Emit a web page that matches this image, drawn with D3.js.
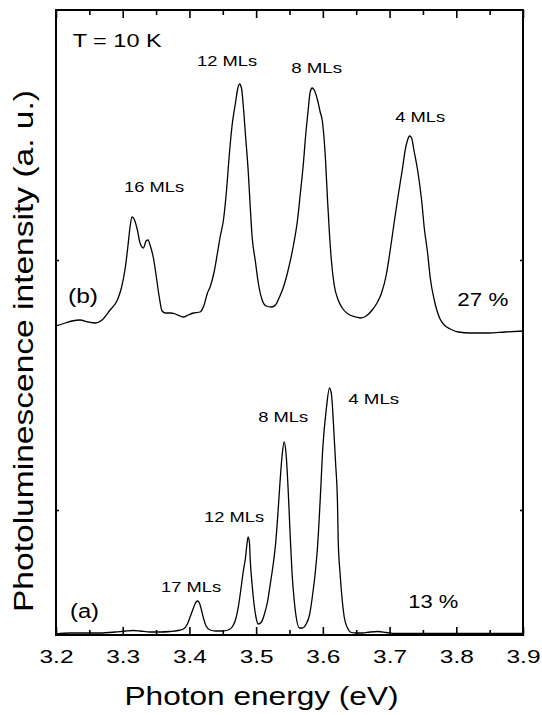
<!DOCTYPE html>
<html><head><meta charset="utf-8">
<script src="https://cdn.jsdelivr.net/npm/d3@7"></script>
<style>
html,body{margin:0;padding:0;background:#fff;}
svg{display:block;font-family:"Liberation Sans",Arial,Helvetica,sans-serif;}
</style></head>
<body><svg id="c" width="542" height="715"></svg>
<script>
// Photon energy (eV) and PL intensity (a.u.)
const energyB = [3.200,3.214,3.224,3.236,3.248,3.259,3.269,3.281,3.292,3.298,3.304,3.308,3.311,3.314,3.317,3.322,3.326,3.331,3.335,3.338,3.341,3.346,3.350,3.355,3.359,3.364,3.371,3.379,3.386,3.391,3.398,3.406,3.416,3.422,3.427,3.431,3.437,3.442,3.446,3.451,3.455,3.460,3.464,3.469,3.472,3.475,3.478,3.481,3.484,3.488,3.491,3.494,3.499,3.503,3.509,3.515,3.523,3.529,3.535,3.541,3.548,3.556,3.562,3.566,3.571,3.574,3.578,3.581,3.584,3.587,3.592,3.596,3.599,3.604,3.607,3.610,3.613,3.617,3.623,3.629,3.638,3.649,3.656,3.665,3.674,3.682,3.688,3.695,3.701,3.707,3.713,3.719,3.724,3.727,3.730,3.733,3.737,3.742,3.748,3.752,3.757,3.761,3.767,3.775,3.782,3.791,3.803,3.821,3.848,3.873,3.900];
const intensityB = [1.236,1.248,1.256,1.260,1.252,1.248,1.260,1.300,1.340,1.388,1.472,1.560,1.632,1.672,1.664,1.620,1.568,1.548,1.576,1.580,1.560,1.508,1.440,1.348,1.296,1.288,1.288,1.284,1.276,1.272,1.280,1.288,1.292,1.320,1.368,1.392,1.452,1.528,1.592,1.660,1.760,1.928,2.040,2.128,2.180,2.204,2.188,2.108,2.000,1.860,1.720,1.592,1.492,1.412,1.340,1.316,1.312,1.320,1.352,1.392,1.460,1.560,1.660,1.760,1.892,1.992,2.100,2.172,2.188,2.180,2.140,2.092,2.060,1.900,1.740,1.600,1.492,1.400,1.340,1.308,1.284,1.272,1.268,1.276,1.300,1.332,1.368,1.440,1.540,1.652,1.760,1.860,1.948,1.980,1.996,1.988,1.932,1.860,1.740,1.628,1.528,1.428,1.340,1.268,1.240,1.224,1.212,1.208,1.208,1.212,1.216];

const energyA = [3.200,3.221,3.244,3.266,3.289,3.304,3.316,3.326,3.341,3.356,3.371,3.383,3.391,3.397,3.401,3.406,3.409,3.412,3.415,3.418,3.421,3.425,3.431,3.439,3.449,3.458,3.464,3.469,3.473,3.478,3.481,3.484,3.487,3.488,3.490,3.491,3.494,3.497,3.500,3.503,3.508,3.512,3.517,3.521,3.526,3.529,3.533,3.536,3.539,3.542,3.545,3.548,3.551,3.554,3.557,3.560,3.565,3.569,3.575,3.580,3.584,3.589,3.592,3.596,3.600,3.605,3.610,3.613,3.616,3.619,3.622,3.623,3.626,3.629,3.632,3.637,3.641,3.649,3.659,3.671,3.683,3.695,3.709,3.731,3.776,3.900];
const intensityA = [0.004,0.008,0.008,0.008,0.012,0.016,0.018,0.016,0.012,0.012,0.014,0.018,0.024,0.044,0.072,0.108,0.128,0.136,0.128,0.100,0.068,0.036,0.020,0.016,0.016,0.020,0.032,0.060,0.108,0.200,0.260,0.308,0.380,0.392,0.368,0.308,0.200,0.120,0.068,0.044,0.052,0.080,0.132,0.200,0.292,0.360,0.500,0.620,0.720,0.772,0.720,0.580,0.400,0.240,0.140,0.072,0.028,0.028,0.044,0.080,0.148,0.260,0.352,0.540,0.752,0.900,0.988,0.960,0.840,0.692,0.520,0.380,0.240,0.140,0.072,0.028,0.012,0.008,0.008,0.012,0.014,0.010,0.006,0.006,0.006,0.006];

const majorTicks = [3.2,3.3,3.4,3.5,3.6,3.7,3.8,3.9];
const tickLabels = ["3.2","3.3","3.4","3.5","3.6","3.7","3.8","3.9"];
const minorTicks = [3.25,3.35,3.45,3.55,3.65,3.75,3.85];
const yTicks = [0.5,1.5];

// annotations: text, energy, intensity (anchor at left/baseline)
const annoText = ["T = 10 K","12 MLs","8 MLs","4 MLs","16 MLs","(b)","27 %","17 MLs","12 MLs","8 MLs","4 MLs","(a)","13 %"];
const annoE    = [3.225,3.4115,3.5525,3.7085,3.302,3.218,3.8015,3.3575,3.422,3.503,3.638,3.221,3.728];
const annoI    = [2.352,2.276,2.248,2.052,1.772,1.328,1.316,0.172,0.452,0.852,0.924,0.068,0.108];
const annoSize = [19,15,15,15,15,20,19,15,15,15,15,20,19];
const annoLen  = [89,60,51,50,60,30,51,60,60,50,51,29,50];

const W=542,H=715, L=56,R=523,T=10,B=635;
const svg = d3.select("#c");
const x = d3.scaleLinear().domain([3.2,3.9]).range([L,R]);
const y = d3.scaleLinear().domain([0,2.5]).range([B,T]);

const line = d3.line().x(d=>x(d[0])).y(d=>y(d[1])).curve(d3.curveMonotoneX);
const serA = energyA.map((e,i)=>[e,intensityA[i]]);
const serB = energyB.map((e,i)=>[e,intensityB[i]]);
[serA,serB].forEach(s=>{
  svg.append("path").attr("d",line(s)).attr("fill","none").attr("stroke","#000").attr("stroke-width",1.3).attr("stroke-linejoin","round");
});

function styleAxis(g){
  g.select(".domain").remove();
  g.selectAll(".tick line").attr("stroke","#000").attr("stroke-width",1.6);
}
// bottom
const gb = svg.append("g").attr("transform",`translate(0,${B})`)
  .call(d3.axisBottom(x).tickValues(majorTicks).tickSize(-8).tickPadding(15).tickFormat((d,i)=>tickLabels[i]));
styleAxis(gb);
gb.selectAll("text").attr("font-size",19).attr("fill","#000").attr("textLength",34).attr("lengthAdjust","spacingAndGlyphs").attr("font-family","Liberation Sans, Arial, sans-serif");
const gbm = svg.append("g").attr("transform",`translate(0,${B})`)
  .call(d3.axisBottom(x).tickValues(minorTicks).tickSize(-5).tickFormat(""));
styleAxis(gbm);
// top
const gt = svg.append("g").attr("transform",`translate(0,${T})`)
  .call(d3.axisTop(x).tickValues(majorTicks).tickSize(-8).tickFormat(""));
styleAxis(gt);
const gtm = svg.append("g").attr("transform",`translate(0,${T})`)
  .call(d3.axisTop(x).tickValues(minorTicks).tickSize(-5).tickFormat(""));
styleAxis(gtm);
// left / right
const gl = svg.append("g").attr("transform",`translate(${L},0)`)
  .call(d3.axisLeft(y).tickValues(yTicks).tickSize(-3).tickFormat(""));
styleAxis(gl);
const gr = svg.append("g").attr("transform",`translate(${R},0)`)
  .call(d3.axisRight(y).tickValues(yTicks).tickSize(-3).tickFormat(""));
styleAxis(gr);

svg.append("rect").attr("x",L).attr("y",T).attr("width",R-L).attr("height",B-T)
  .attr("fill","none").attr("stroke","#000").attr("stroke-width",2);

// annotations
annoText.forEach((t,i)=>{
  svg.append("text").attr("x",x(annoE[i])).attr("y",y(annoI[i]))
    .attr("font-size",annoSize[i]).attr("fill","#000")
    .attr("textLength",annoLen[i]).attr("lengthAdjust","spacingAndGlyphs")
    .text(t);
});

// axis titles
svg.append("text").attr("x",(L+R)/2-28).attr("y",705).attr("text-anchor","middle")
  .attr("font-size",25).attr("textLength",274).attr("lengthAdjust","spacingAndGlyphs")
  .text("Photon energy (eV)");
svg.append("text").attr("transform","translate(33,351) rotate(-90)").attr("text-anchor","middle")
  .attr("font-size",27).attr("textLength",522).attr("lengthAdjust","spacingAndGlyphs")
  .text("Photoluminescence intensity (a. u.)");
</script></body></html>
